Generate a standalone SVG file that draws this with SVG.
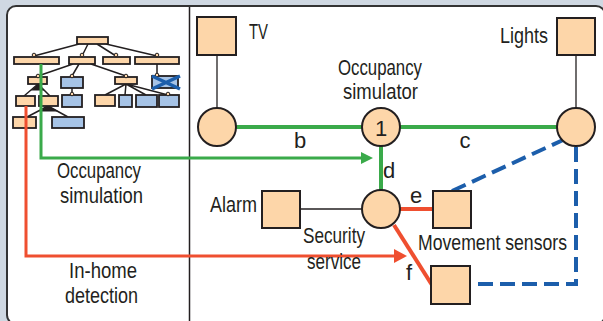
<svg xmlns="http://www.w3.org/2000/svg" width="603" height="321" viewBox="0 0 603 321">
  <defs>
    <style>
      .bg { fill: #cfd8e2; }
      .frame { fill: #ffffff; stroke: #333333; stroke-width: 2; }
      .divider { stroke: #231f20; stroke-width: 1.5; fill: none; }
      .or { fill: #fdd6a9; stroke: #231f20; stroke-width: 1.8; }
      .bl { fill: #a6c3e6; stroke: #231f20; stroke-width: 1.8; }
      .tedge { stroke: #231f20; stroke-width: 1.5; fill: none; }
      .tdot { fill: #fdd6a9; stroke: #231f20; stroke-width: 1; }
      .tri { fill: #231f20; stroke: none; }
      .cross { stroke: #1c5eab; stroke-width: 3.5; fill: none; }
      .box { fill: #fdd6a9; stroke: #231f20; stroke-width: 2; }
      .thin { stroke: #231f20; stroke-width: 1.3; fill: none; }
      .green { stroke: #3aaa4a; stroke-width: 4; fill: none; }
      .greenArr { stroke: #3aaa4a; stroke-width: 3; fill: none; }
      .red { stroke: #ef4f30; stroke-width: 4; fill: none; }
      .redArr { stroke: #ef4f30; stroke-width: 3; fill: none; }
      .blue { stroke: #1c5eab; stroke-width: 4; fill: none; stroke-dasharray: 15 7; }
      text { font-family: "Liberation Sans", Arial, sans-serif; font-size: 22px; fill: #231f20; }
      .mid { text-anchor: middle; }
    </style>
    <marker id="arrG" viewBox="0 0 12 12" refX="4" refY="6" markerWidth="12" markerHeight="12" markerUnits="userSpaceOnUse" orient="auto">
      <path d="M0,0 L12,6 L0,12 Z" fill="#3aaa4a"/>
    </marker>
    <marker id="arrR" viewBox="0 0 13 14" refX="4" refY="7" markerWidth="13" markerHeight="14" markerUnits="userSpaceOnUse" orient="auto">
      <path d="M0,0 L13,7 L0,14 Z" fill="#ef4f30"/>
    </marker>
  </defs>

  <!-- background and frame -->
  <rect class="bg" x="0" y="0" width="603" height="321"/>
  <rect class="frame" x="7" y="6" width="598" height="318" rx="9" ry="9"/>
  <line class="divider" x1="189.5" y1="7" x2="189.5" y2="321"/>

  <!-- feature tree (left panel) -->
  <g id="feature-tree">
    <g>
      <path class="tedge" d="M79,44 L34,56 M88,44 L82,56 M97,44 L116,56 M106,44 L157,56"/>
      <path class="tedge" d="M73,64 L38,76 M79,64 L72,76 M91,64 L126,76 M157,64 L157,76"/>
      <path class="tedge" d="M38,84 L24,96 M38,84 L50,96 M72,88 L72,95"/>
      <path class="tedge" d="M126,84 L105,95 M126,84 L125,95 M126,84 L146,95 M126,84 L168,95"/>
      <path class="tedge" d="M48,106 L27,117 M48,106 L68,117"/>
      <polygon class="tri" points="38,84 31,90.5 44.5,90.5"/>
      <polygon class="tri" points="48,106 39,111.5 59,111.5"/>
    </g>
    <rect class="or" x="77" y="37" width="31" height="7"/>
    <rect class="or" x="14" y="57" width="45" height="7"/>
    <rect class="or" x="69" y="57" width="26" height="7"/>
    <rect class="or" x="103" y="57" width="27" height="7"/>
    <rect class="or" x="135" y="57" width="44" height="7"/>
    <rect class="or" x="28" y="77" width="19" height="7"/>
    <rect class="bl" x="61" y="77" width="22" height="11"/>
    <rect class="or" x="115" y="77" width="22" height="7"/>
    <rect class="bl" x="152" y="76" width="26" height="12"/>
    <rect class="or" x="16" y="96" width="19" height="10"/>
    <rect class="or" x="39" y="96" width="19" height="10"/>
    <rect class="bl" x="62" y="95" width="20" height="12"/>
    <rect class="or" x="95" y="95" width="20" height="11"/>
    <rect class="bl" x="119" y="95" width="13" height="12"/>
    <rect class="bl" x="136" y="95" width="21" height="12"/>
    <rect class="bl" x="159" y="95" width="20" height="12"/>
    <rect class="or" x="13" y="117" width="23" height="11"/>
    <rect class="bl" x="52" y="117" width="32" height="11"/>
    <circle class="tdot" cx="34" cy="55" r="1.8"/>
    <circle class="tdot" cx="82" cy="55" r="1.8"/>
    <circle class="tdot" cx="116" cy="55" r="1.8"/>
    <circle class="tdot" cx="157" cy="55" r="1.8"/>
    <circle class="tdot" cx="38" cy="76" r="1.8"/>
    <circle class="tdot" cx="72" cy="76" r="1.8"/>
    <circle class="tdot" cx="126" cy="76" r="1.8"/>
    <circle class="tdot" cx="157" cy="75" r="1.8"/>
    <circle class="tdot" cx="72" cy="94" r="1.8"/>
    <circle class="tdot" cx="168" cy="94" r="1.8"/>
    <path class="cross" d="M152,76 L180,89 M152,89 L180,76"/>
  </g>

  <!-- left panel labels -->
  <g id="label-occupancy-simulation">
    <text x="57" y="178" textLength="84" lengthAdjust="spacingAndGlyphs">Occupancy</text>
    <text x="60" y="203" textLength="83" lengthAdjust="spacingAndGlyphs">simulation</text>
  </g>
  <g id="label-in-home-detection">
    <text x="69" y="278" textLength="68" lengthAdjust="spacingAndGlyphs">In-home</text>
    <text x="65" y="303" textLength="73" lengthAdjust="spacingAndGlyphs">detection</text>
  </g>

  <!-- connectors -->
  <g id="connectors">
    <line class="thin" x1="217" y1="55" x2="217" y2="108"/>
    <line class="thin" x1="576" y1="55" x2="576" y2="108"/>
    <line class="thin" x1="300" y1="209" x2="362" y2="209"/>
    <line class="green" x1="236" y1="127" x2="362" y2="127"/>
    <line class="green" x1="399" y1="127" x2="557" y2="127"/>
    <line class="green" x1="381" y1="146" x2="381" y2="190"/>
    <line class="red" x1="399" y1="209" x2="433" y2="209"/>
    <line class="red" x1="394" y1="225" x2="432" y2="285"/>
    <path class="blue" d="M452,191 L563,140"/>
    <path class="blue" d="M576,147 L576,284 L470,284"/>
    <path class="greenArr" d="M41,64 L41,158 L365,158" marker-end="url(#arrG)"/>
    <path class="redArr" d="M26,106 L26,256 L398,256" marker-end="url(#arrR)"/>
    <text class="mid" x="300" y="148">b</text>
    <text class="mid" x="465" y="148">c</text>
    <text class="mid" x="389" y="178">d</text>
    <text class="mid" x="416" y="203">e</text>
    <text class="mid" x="409" y="280">f</text>
  </g>

  <!-- nodes -->
  <g id="tv">
    <rect class="box" x="197" y="17" width="39" height="38"/>
    <text x="249" y="39" textLength="19" lengthAdjust="spacingAndGlyphs">TV</text>
  </g>
  <g id="lights">
    <rect class="box" x="557" y="18" width="38" height="37"/>
    <text x="500" y="43" textLength="48" lengthAdjust="spacingAndGlyphs">Lights</text>
  </g>
  <g id="tv-hub">
    <circle class="box" cx="217" cy="127" r="19"/>
  </g>
  <g id="occupancy-simulator">
    <circle class="box" cx="381" cy="127" r="19"/>
    <text class="mid" x="381" y="136">1</text>
    <text x="338" y="75" textLength="84" lengthAdjust="spacingAndGlyphs">Occupancy</text>
    <text x="343" y="99" textLength="75" lengthAdjust="spacingAndGlyphs">simulator</text>
  </g>
  <g id="lights-hub">
    <circle class="box" cx="576" cy="127" r="19"/>
  </g>
  <g id="alarm">
    <rect class="box" x="262" y="191" width="38" height="37"/>
    <text x="210" y="212" textLength="47" lengthAdjust="spacingAndGlyphs">Alarm</text>
  </g>
  <g id="security-service">
    <circle class="box" cx="381" cy="209" r="19"/>
    <text x="303" y="243" textLength="62" lengthAdjust="spacingAndGlyphs">Security</text>
    <text x="307" y="269" textLength="54" lengthAdjust="spacingAndGlyphs">service</text>
  </g>
  <g id="movement-sensor-e">
    <rect class="box" x="433" y="191" width="38" height="37"/>
  </g>
  <g id="movement-sensor-f">
    <rect class="box" x="431" y="266" width="39" height="38"/>
  </g>
  <g id="label-movement-sensors">
    <text x="418" y="250" textLength="149" lengthAdjust="spacingAndGlyphs">Movement sensors</text>
  </g>
</svg>
